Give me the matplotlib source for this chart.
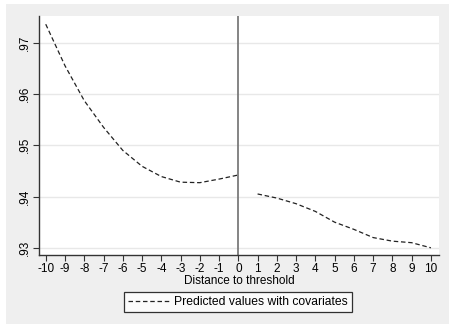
import matplotlib
matplotlib.use("Agg")
import matplotlib.pyplot as plt
from matplotlib.patches import Rectangle

plt.rcParams['font.family'] = ['Liberation Sans', 'DejaVu Sans']

# predicted values left and right of the cutoff
x_left = [-10, -9, -8, -7, -6, -5, -4, -3, -2, -1, 0]
y_left = [.9736, .9655, .9587, .9535, .9490, .9459, .9439, .9428, .9427, .9434, .9442]
x_right = [1, 2, 3, 4, 5, 6, 7, 8, 9, 10]
y_right = [.9405, .9397, .9386, .9371, .9350, .9336, .9320, .9313, .9310, .9300]

xticks = list(range(-10, 11))
yticks = [.93, .94, .95, .96, .97]
ylabels = ['.93', '.94', '.95', '.96', '.97']

W, H = 449, 324
fig = plt.figure(figsize=(W / 100, H / 100), dpi=100, facecolor='white')
fig.patches.append(Rectangle((6 / W, 0), 1, 1 - 4 / H, transform=fig.transFigure,
                             facecolor='#efefef', edgecolor='none', zorder=-10))

ax = fig.add_axes([39 / W, (H - 255) / H, 400 / W, (255 - 16) / H])
ax.set_facecolor('white')

dash = (0, (3.6, 2.2))
ax.plot(x_left, y_left, color='#222222', lw=0.9, linestyle=dash)
ax.plot(x_right, y_right, color='#222222', lw=0.9, linestyle=dash,
        label='Predicted values with covariates')
ax.axvline(0, color='#707070', lw=1.2)

ax.set_xlim(-10.35, 10.42)
ax.set_ylim(.9286, .9752)
ax.set_xticks(xticks)
ax.set_xticklabels([str(v) for v in xticks])
ax.set_yticks(yticks)
ax.set_yticklabels(ylabels, rotation=90, va='center')
ax.grid(axis='y', color='#e8e8e8', lw=1.0)
ax.set_axisbelow(True)

for s in ['top', 'right']:
    ax.spines[s].set_visible(False)
for s in ['left', 'bottom']:
    ax.spines[s].set_color('#333333')
    ax.spines[s].set_linewidth(1.0)
ax.tick_params(direction='out', length=4, width=0.8, color='#333333',
               labelsize=8.5, pad=2)

ax.set_xlabel('Distance to threshold', fontsize=8.5, labelpad=0)

leg = fig.legend(loc='center', bbox_to_anchor=(238 / W, 1 - 302 / H), ncol=1,
                 fontsize=8.7, frameon=True, fancybox=False, handlelength=3.4,
                 borderpad=0.35, handletextpad=0.4)
leg.get_frame().set_edgecolor('black')
leg.get_frame().set_linewidth(0.9)

fig.savefig('out.png', dpi=100, facecolor=fig.get_facecolor())
